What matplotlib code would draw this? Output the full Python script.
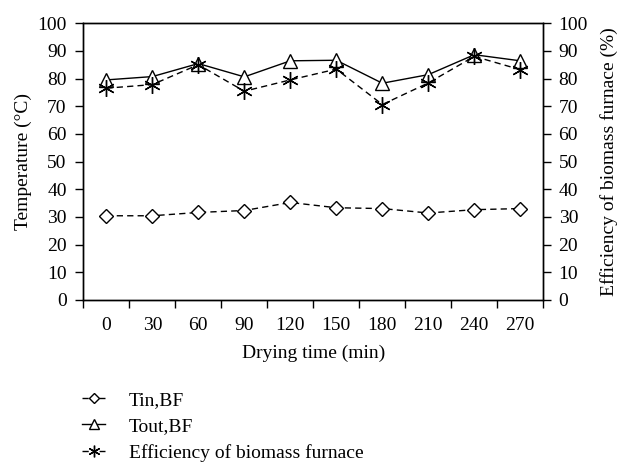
import numpy as np
import matplotlib
matplotlib.use('Agg')
from matplotlib import pyplot as plt
from matplotlib.legend_handler import HandlerLine2D

plt.rcParams['font.family'] = ['Liberation Serif', 'DejaVu Serif']

times = ['0', '30', '60', '90', '120', '150', '180', '210', '240', '270']
tin_bf = [30.4, 30.4, 31.6, 32.3, 35.2, 33.3, 33.0, 31.4, 32.6, 33.0]
tout_bf = [79.5, 80.7, 85.4, 80.6, 86.4, 86.6, 78.3, 81.4, 88.6, 86.4]
efficiency = [76.5, 77.8, 85.0, 75.4, 79.5, 83.4, 70.6, 78.4, 88.0, 83.2]

fs = 14
x = np.arange(len(times))

fig = plt.figure(figsize=(6.2, 4.73), dpi=100)
ax = fig.add_axes([0.1344, 0.366, 0.7419, 0.585])

l1, = ax.plot(x, tin_bf, color='k', lw=1, dashes=(4.5, 3), marker='D', ms=7.5,
              mfc='white', mec='k', mew=1, label='Tin,BF')
l2, = ax.plot(x, tout_bf, color='k', lw=1, marker='^', ms=10,
              mfc='white', mec='k', mew=1, label='Tout,BF')
l3, = ax.plot(x, efficiency, color='k', lw=1, dashes=(4.5, 3), marker=(6, 2, 0), ms=12,
              mfc='white', mec='k', mew=1, label='Efficiency of biomass furnace')

ax.set_xlim(-0.5, len(times) - 0.5)
ax.set_ylim(0, 100)
ax.set_yticks(range(0, 101, 10))
ax.set_xticks(np.arange(-0.5, len(times), 1.0))
ax.set_xticklabels([])
ax.set_xticks(x, minor=True)
ax.set_xticklabels(times, minor=True, fontsize=fs)
ax.tick_params(axis='x', which='major', direction='out', length=6, width=1)
ax.tick_params(axis='x', which='minor', length=0, pad=12)
ax.tick_params(axis='y', direction='out', length=6, width=1, labelsize=fs, pad=6)
ax.set_xlabel('Drying time (min)', fontsize=fs, labelpad=8)
ax.set_ylabel('Temperature (°C)', fontsize=fs, labelpad=4)
for s in ax.spines.values():
    s.set_linewidth(1)

ax2 = ax.twinx()
ax2.set_ylim(0, 100)
ax2.set_yticks(range(0, 101, 10))
ax2.tick_params(axis='y', direction='out', length=6, width=1, labelsize=fs, pad=5)
ax2.set_ylabel('Efficiency of biomass furnace (%)', fontsize=fs, labelpad=9)
for s in ax2.spines.values():
    s.set_linewidth(1)


# short dash on each side of the marker in the legend
def leg_update(legline, orig):
    legline.update_from(orig)
    if orig.get_linestyle() != '-':
        legline.set_dashes((4.5, 7.8))


hm = {l1: HandlerLine2D(update_func=leg_update), l3: HandlerLine2D(update_func=leg_update)}
leg = fig.legend(handles=[l1, l2, l3], loc='upper left', bbox_to_anchor=(0.132, 0.173),
                 frameon=False, fontsize=fs, handlelength=1.2, handletextpad=1.2,
                 labelspacing=0.45, markerscale=0.7, borderaxespad=0, borderpad=0,
                 handler_map=hm)

plt.savefig('out.png', dpi=100)
plt.close()
